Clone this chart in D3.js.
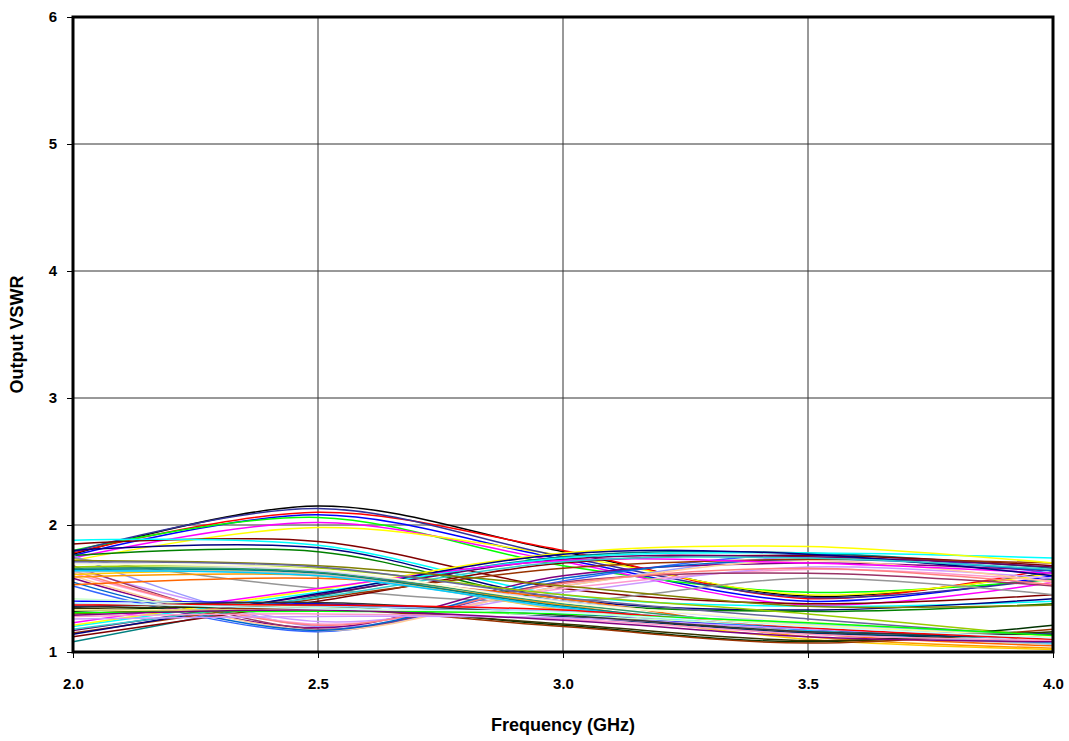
<!DOCTYPE html>
<html>
<head>
<meta charset="utf-8">
<script src="https://cdn.jsdelivr.net/npm/d3@7"></script>
<style>
  body { margin: 0; background: #fff; }
  text { font-family: "Liberation Sans", Arial, sans-serif; font-weight: bold; }
</style>
</head>
<body>
<svg id="chart" width="1069" height="741"></svg>
<script>
// frequency points (GHz)
const freqs = [2.0, 2.5, 3.0, 3.5, 4.0]

// output VSWR for each trace, one value per frequency point
const vswr = [
  // peaking near 2.5 GHz
  [1.77, 2.15, 1.79, 1.44, 1.63],
  [1.78, 2.10, 1.80, 1.42, 1.66],
  [1.76, 2.08, 1.73, 1.40, 1.60],
  [1.80, 2.06, 1.68, 1.47, 1.57],
  [1.74, 2.02, 1.71, 1.37, 1.55],
  [1.72, 1.98, 1.76, 1.45, 1.62],
  [1.79, 2.13, 1.75, 1.43, 1.58],
  // high and flat, then falling
  [1.85, 1.87, 1.50, 1.38, 1.45],
  [1.88, 1.84, 1.45, 1.36, 1.40],
  [1.80, 1.82, 1.42, 1.33, 1.42],
  [1.76, 1.79, 1.40, 1.32, 1.38],
  // dipping near 2.5 GHz
  [1.76, 1.20, 1.52, 1.75, 1.60],
  [1.74, 1.50, 1.40, 1.58, 1.45],
  [1.52, 1.16, 1.56, 1.77, 1.62],
  [1.58, 1.19, 1.60, 1.70, 1.64],
  [1.62, 1.22, 1.50, 1.65, 1.56],
  [1.66, 1.24, 1.47, 1.67, 1.58],
  [1.68, 1.18, 1.55, 1.62, 1.52],
  [1.60, 1.17, 1.52, 1.72, 1.55],
  [1.64, 1.21, 1.54, 1.66, 1.53],
  [1.55, 1.17, 1.58, 1.73, 1.64],
  // rising
  [1.08, 1.44, 1.75, 1.78, 1.66],
  [1.12, 1.40, 1.70, 1.76, 1.68],
  [1.15, 1.42, 1.66, 1.73, 1.70],
  [1.17, 1.45, 1.73, 1.75, 1.67],
  [1.20, 1.47, 1.74, 1.78, 1.74],
  [1.21, 1.49, 1.78, 1.83, 1.70],
  [1.23, 1.50, 1.72, 1.70, 1.62],
  [1.14, 1.46, 1.77, 1.77, 1.60],
  [1.18, 1.43, 1.71, 1.74, 1.65],
  // falling
  [1.72, 1.68, 1.52, 1.36, 1.37],
  [1.53, 1.58, 1.42, 1.15, 1.05],
  [1.59, 1.60, 1.37, 1.12, 1.03],
  [1.61, 1.62, 1.33, 1.10, 1.02],
  [1.66, 1.63, 1.38, 1.20, 1.15],
  [1.67, 1.66, 1.45, 1.30, 1.12],
  [1.65, 1.62, 1.36, 1.18, 1.10],
  [1.70, 1.64, 1.40, 1.22, 1.08],
  [1.63, 1.61, 1.34, 1.16, 1.06],
  [1.69, 1.65, 1.39, 1.24, 1.09],
  [1.71, 1.67, 1.43, 1.26, 1.12],
  [1.64, 1.60, 1.35, 1.17, 1.07],
  // low and flat
  [1.32, 1.36, 1.21, 1.08, 1.21],
  [1.30, 1.34, 1.20, 1.07, 1.18],
  [1.34, 1.35, 1.22, 1.09, 1.16],
  [1.40, 1.38, 1.30, 1.18, 1.14],
  [1.36, 1.37, 1.28, 1.15, 1.12],
  [1.38, 1.36, 1.32, 1.22, 1.13],
  [1.42, 1.35, 1.29, 1.20, 1.10],
  [1.28, 1.30, 1.26, 1.14, 1.09],
  [1.26, 1.28, 1.27, 1.18, 1.11],
  [1.33, 1.33, 1.31, 1.21, 1.12],
  [1.35, 1.39, 1.29, 1.16, 1.14],
  [1.37, 1.37, 1.33, 1.19, 1.10],
  [1.31, 1.32, 1.30, 1.23, 1.13],
  [1.29, 1.33, 1.25, 1.12, 1.08],
  [1.39, 1.34, 1.31, 1.20, 1.11]
]

const lineColors = [
  '#000000', '#FF0000', '#0000FF', '#00FF00', '#FF00FF', '#FFFF00', '#333399',
  '#800000', '#00FFFF', '#000080', '#008000',
  '#9999FF', '#969696', '#3366FF', '#800080', '#FF99CC', '#CC99FF', '#993366', '#FFCC99', '#FF8080', '#0066CC',
  '#008080', '#800000', '#993300', '#660066', '#00FFFF', '#FFFF00', '#FF00FF', '#000080', '#33CCCC',
  '#808000', '#FF6600', '#FF9900', '#FFCC00', '#339966', '#99CC00', '#008080', '#CCCCFF', '#C0C0C0', '#FFFFCC', '#666699', '#00CCFF',
  '#003300', '#993300', '#333300', '#0000FF', '#003366', '#99CCFF', '#CCFFCC', '#FF99CC', '#CC99FF', '#FFFF99', '#333333', '#FF0000', '#00FF00', '#800080', '#CCFFFF'
]

const xTicks = [2.0, 2.5, 3.0, 3.5, 4.0]
const yTicks = [1, 2, 3, 4, 5, 6]

const margin = {left: 73, top: 17, right: 16, bottom: 89}
const width = 1069 - margin.left - margin.right
const height = 741 - margin.top - margin.bottom

const svg = d3.select('#chart')
const g = svg.append('g').attr('transform', `translate(${margin.left},${margin.top})`)

const x = d3.scaleLinear().domain([2, 4]).range([0, width])
const y = d3.scaleLinear().domain([1, 6]).range([height, 0])

// grid
g.append('g')
  .selectAll('line')
  .data(xTicks.slice(1, -1))
  .enter().append('line')
  .attr('x1', d => x(d)).attr('x2', d => x(d))
  .attr('y1', 0).attr('y2', height)
  .attr('stroke', '#333').attr('stroke-width', 1)
g.append('g')
  .selectAll('line')
  .data(yTicks.slice(1, -1))
  .enter().append('line')
  .attr('x1', 0).attr('x2', width)
  .attr('y1', d => y(d)).attr('y2', d => y(d))
  .attr('stroke', '#333').attr('stroke-width', 1)

// traces
const line = d3.line()
  .x((d, i) => x(freqs[i]))
  .y(d => y(d))
  .curve(d3.curveCardinal.tension(0))

g.append('g')
  .selectAll('path')
  .data(vswr)
  .enter().append('path')
  .attr('d', line)
  .attr('fill', 'none')
  .attr('stroke', (d, i) => lineColors[i % lineColors.length])
  .attr('stroke-width', 1.5)

// axes
const xAxis = g.append('g')
  .attr('transform', `translate(0,${height})`)
  .call(d3.axisBottom(x).tickValues(xTicks).tickFormat(d3.format('.1f')).tickSize(6).tickPadding(20))
const yAxis = g.append('g')
  .call(d3.axisLeft(y).tickValues(yTicks).tickFormat(d3.format('d')).tickSize(6).tickPadding(10))

;[xAxis, yAxis].forEach(a => {
  a.select('.domain').remove()
  a.selectAll('.tick line').attr('stroke', '#000')
  a.selectAll('.tick text').attr('fill', '#000').style('font-size', '15px')
})

// frame
g.append('rect')
  .attr('x', 0).attr('y', 0)
  .attr('width', width).attr('height', height)
  .attr('fill', 'none')
  .attr('stroke', '#000')
  .attr('stroke-width', 3)

// titles
svg.append('text')
  .attr('x', margin.left + width / 2)
  .attr('y', 731)
  .attr('text-anchor', 'middle')
  .style('font-size', '18px')
  .text('Frequency (GHz)')

svg.append('text')
  .attr('transform', `translate(23,${margin.top + height / 2}) rotate(-90)`)
  .attr('text-anchor', 'middle')
  .style('font-size', '18px')
  .text('Output VSWR')
</script>
</body>
</html>
